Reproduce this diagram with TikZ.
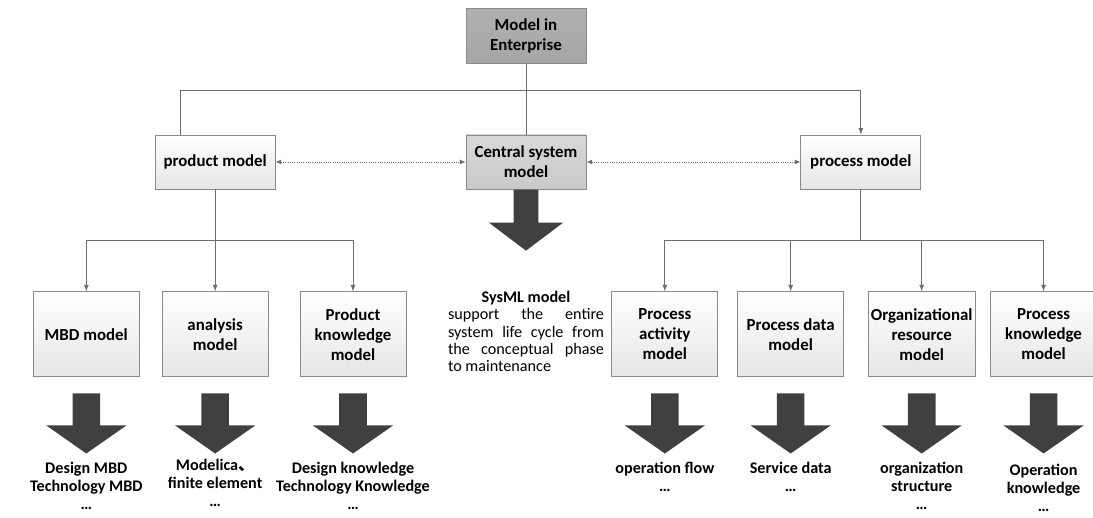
\documentclass[tikz,border=0pt]{standalone}
\usepackage{fontspec}
\setmainfont{Carlito}
\newfontfamily\cjkfont{Noto Sans CJK SC}
\usepackage{xcolor}
\usepackage{tikz}
\usetikzlibrary{arrows.meta}
\usetikzlibrary{shapes,arrows,positioning}
\definecolor{boxedge}{HTML}{8A8A8A}
\definecolor{boxfill}{HTML}{E6E6E6}
\definecolor{linegray}{HTML}{6E6E6E}
\definecolor{arrowgray}{HTML}{404040}
\tikzset{>=latex}
\tikzset{model-line/.style={line width=0.6pt, draw=linegray}}
\tikzset{link-dotted/.style={densely dotted, line width=0.6pt, draw=linegray, {Latex[length=4pt,width=3.5pt]}-{Latex[length=4pt,width=3.5pt]}}}
\tikzset{model-node/.style={draw=boxedge, line width=0.6pt, inner sep=2pt, align=center,
        font=\bfseries\fontsize{12}{14.2}\selectfont, top color=white, bottom color=boxfill,
        minimum width=3cm, minimum height=1.35cm}}
\tikzset{top-node/.style={model-node, top color=gray!62, bottom color=gray!70, minimum height=1.375cm}}
\tikzset{core-node/.style={model-node, top color=gray!30, bottom color=gray!42}}
\tikzset{leaf-node/.style={model-node, minimum width=2.65cm, minimum height=2.125cm}}
\tikzset{leaf-label/.style={align=center, inner sep=0, font=\bfseries\fontsize{11.5}{12.8}\selectfont}}
\tikzset{big-arrow/.style={
        single arrow,
        draw=none,
        fill=arrowgray,
        rotate=-90,
        minimum height=1.5cm,
        inner sep=0.3375cm,
        single arrow tip angle=110,
        single arrow head extend=0.6625cm
    }
}
\tikzset{core-arrow/.style={big-arrow, minimum height=1.525cm, inner sep=0.3cm,
        single arrow tip angle=106, single arrow head extend=0.625cm}}

\begin{document}
\begin{tikzpicture}[]
            \useasboundingbox (0,0) rectangle (27.325,-12.925);

            \node[top-node] (top) at (13.15,-0.89) {Model in\\Enterprise};

            \node[core-node, below=1.775cm of top] (central) {Central system\\model};
            \node[model-node, left=4.75cm of central] (product) {product model};
            \node[model-node, right=5.35cm of central] (process) {process model};

            % product side
            \node[leaf-node, below=2.55cm of product] (analysis) {analysis\\model};
            \node[leaf-node, left=0.55cm of analysis] (mbd) {MBD model};
            \node[leaf-node, right=0.775cm of analysis] (pknow) {Product\\knowledge\\model};

            % process side
            \node[leaf-node, below=2.55cm of process, xshift=-4.9cm] (pact) {Process\\activity\\model};
            \node[leaf-node, right=0.475cm of pact] (pdata) {Process data\\model};
            \node[leaf-node, right=0.59cm of pdata] (orgres) {Organizational\\resource\\model};
            \node[leaf-node, right=0.36cm of orgres] (pkn) {Process\\knowledge\\model};

            \coordinate[below=0.675cm of top] (split);
            \coordinate[below=1.275cm of product] (pbar);
            \coordinate[below=1.275cm of process] (rbar);

            \draw[model-line] (top) -- (central);
            \draw[model-line] (split) -| ([xshift=-0.875cm]product.north);
            \draw[->, model-line] (split) -| (process);

            \draw[link-dotted] (product) -- (central);
            \draw[link-dotted] (central) -- (process);

            \draw[->, model-line] (product) -- (analysis);
            \draw[->, model-line] (pbar) -| (mbd);
            \draw[->, model-line] (pbar) -| (pknow);

            \draw[model-line] (process) -- (rbar);
            \draw[->, model-line] (rbar) -| (pact);
            \draw[->, model-line] (rbar) -| (pdata);
            \draw[->, model-line] (rbar) -| (orgres);
            \draw[->, model-line] (rbar) -| (pkn);

            % block arrows
            \node[core-arrow, below=0cm of central, anchor=tail] (core-arrow) {};
            \node[big-arrow, below=0.4cm of mbd, anchor=tail] (mbd-arrow) {};
            \node[big-arrow, below=0.4cm of analysis, anchor=tail] (analysis-arrow) {};
            \node[big-arrow, below=0.4cm of pknow, anchor=tail] (pknow-arrow) {};
            \node[big-arrow, below=0.4cm of pact, anchor=tail] (pact-arrow) {};
            \node[big-arrow, below=0.4cm of pdata, anchor=tail] (pdata-arrow) {};
            \node[big-arrow, below=0.4cm of orgres, anchor=tail] (orgres-arrow) {};
            \node[big-arrow, below=0.4cm of pkn, anchor=tail] (pkn-arrow) {};

            \node[below=1.0cm of core-arrow.tip, text width=3.9cm, align=justify, inner sep=0,
                font=\fontsize{11.5}{12.3}\selectfont] (sysml)
                {{\centering\bfseries SysML model\par}support the entire\linebreak system life cycle from\linebreak the conceptual phase\linebreak to maintenance};

            % what each model holds
            \node[leaf-label, below=0.2cm of mbd-arrow.tip] (mbd-out) {Design MBD\\Technology MBD\\…};
            \node[leaf-label, below=0.12cm of analysis-arrow.tip] (analysis-out) {Modelica{\cjkfont 、}\\finite element\\…};
            \node[leaf-label, below=0.2cm of pknow-arrow.tip] (pknow-out) {Design knowledge\\Technology Knowledge\\…};
            \node[leaf-label, below=0.2cm of pact-arrow.tip] (pact-out) {operation flow\\…};
            \node[leaf-label, below=0.2cm of pdata-arrow.tip] (pdata-out) {Service data\\…};
            \node[leaf-label, below=0.2cm of orgres-arrow.tip] (orgres-out) {organization\\structure\\…};
            \node[leaf-label, below=0.26cm of pkn-arrow.tip] (pkn-out) {Operation\\knowledge\\…};

        \end{tikzpicture}
\end{document}
